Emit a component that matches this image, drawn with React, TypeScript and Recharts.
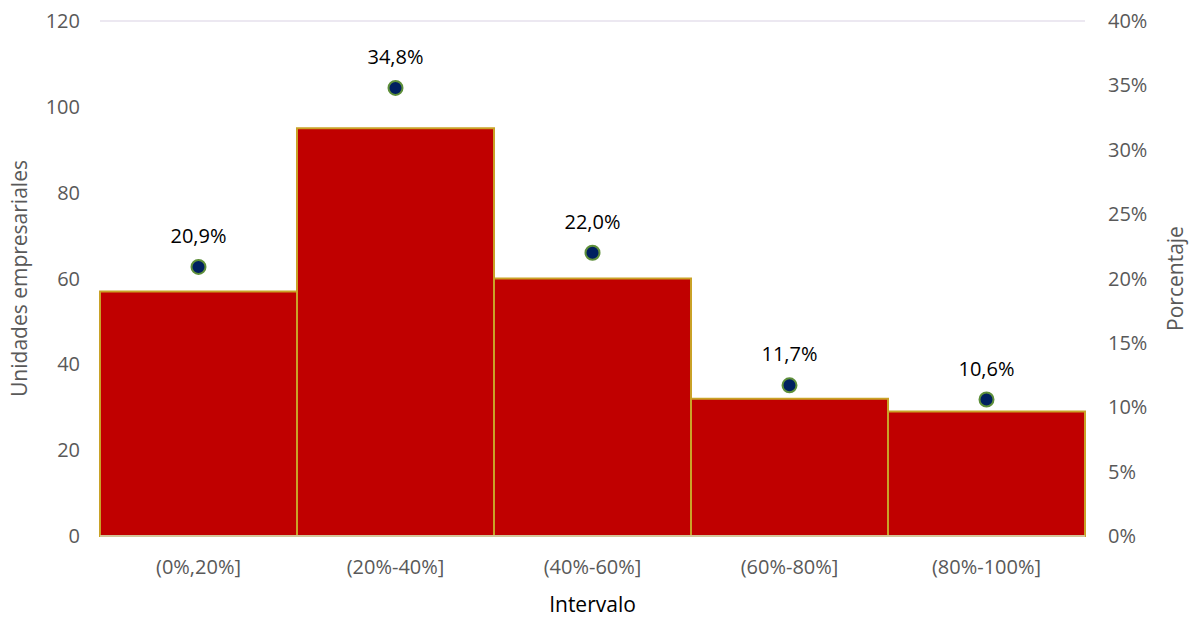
import {
  ComposedChart,
  Bar,
  Line,
  CartesianGrid,
  XAxis,
  YAxis,
  LabelList,
} from "recharts"

const intervals = ["(0%,20%]", "(20%-40%]", "(40%-60%]", "(60%-80%]", "(80%-100%]"]
const unidades = [57, 95, 60, 32, 29]
const porcentajes = [20.9, 34.8, 22.0, 11.7, 10.6]
const leftTicks = [0, 20, 40, 60, 80, 100, 120]
const rightTicks = [0, 5, 10, 15, 20, 25, 30, 35, 40]

const FONT = "'Open Sans', sans-serif"
const GREY = "#595959"

const data = intervals.map((name, i) => ({
  name,
  unidades: unidades[i],
  porcentaje: porcentajes[i],
}))

const fmtPct = (v: any) => `${Number(v).toFixed(1).replace(".", ",")}%`

const Dot = (props: any) => {
  const { cx, cy } = props
  if (cx == null || cy == null) return null
  return <circle cx={cx} cy={cy} r={7} fill="#002060" stroke="#5E8F3A" strokeWidth={2} />
}

export default function App() {
  const tick = { fill: GREY, fontSize: 20, fontFamily: FONT }
  return (
    <div style={{ position: "absolute", left: 0, top: 0, width: 1192, height: 617, background: "#fff" }}>
      <ComposedChart
        width={1192}
        height={617}
        data={data}
        margin={{ top: 21, right: 0, left: 0, bottom: 0 }}
        barCategoryGap={0}
        barGap={0}
      >
        <CartesianGrid vertical={false} stroke="#E6E0EC" strokeWidth={1.5} />
        <XAxis
          dataKey="name"
          height={81}
          tick={tick}
          tickLine={false}
          axisLine={{ stroke: "#D6CFC0", strokeWidth: 1.5 }}
          tickMargin={18}
          label={{ value: "Intervalo", position: "insideBottom", offset: 5, fill: "#000", fontSize: 21, fontFamily: FONT }}
        />
        <YAxis
          yAxisId="left"
          width={100}
          domain={[0, 120]}
          ticks={leftTicks}
          tick={tick}
          tickLine={false}
          axisLine={false}
          tickMargin={14}
          label={{ value: "Unidades empresariales", angle: -90, position: "insideLeft", offset: 20, fill: GREY, fontSize: 21, fontFamily: FONT, style: { textAnchor: "middle" } }}
        />
        <YAxis
          yAxisId="right"
          orientation="right"
          width={107}
          domain={[0, 40]}
          ticks={rightTicks}
          tickFormatter={(v: number) => `${v}%`}
          tick={tick}
          tickLine={false}
          axisLine={false}
          tickMargin={17}
          label={{ value: "Porcentaje", angle: -90, position: "insideRight", offset: 16, fill: GREY, fontSize: 21, fontFamily: FONT, style: { textAnchor: "middle" } }}
        />
        <Bar
          yAxisId="left"
          dataKey="unidades"
          fill="#C00000"
          stroke="#C9A227"
          strokeWidth={2}
          isAnimationActive={false}
        />
        <Line
          yAxisId="right"
          dataKey="porcentaje"
          stroke="none"
          dot={<Dot />}
          activeDot={false}
          isAnimationActive={false}
        >
          <LabelList
            dataKey="porcentaje"
            position="top"
            offset={24}
            formatter={fmtPct}
            fill="#000"
            fontSize={20}
            fontFamily={FONT}
          />
        </Line>
      </ComposedChart>
    </div>
  )
}
